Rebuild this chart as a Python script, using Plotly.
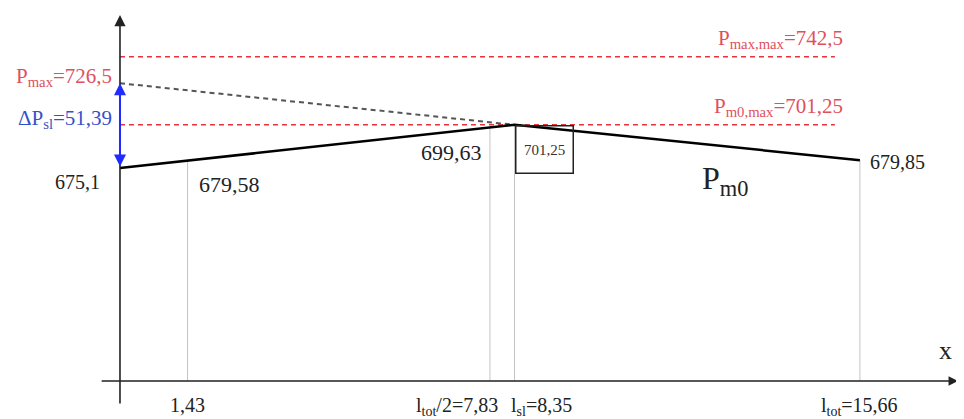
import plotly.graph_objects as go

# ---------------- data ----------------
x_pts = [0, 1.43, 7.83, 8.35, 15.66]
p_m0 = [675.1, 679.58, 699.63, 701.25, 679.85]
p_max = 726.5
p_max_max = 742.5
p_m0_max = 701.25
dp_sl = 51.39
l_half = 7.83
l_sl = 8.35
l_tot = 15.66

pt_labels = ["675,1", "679,58", "699,63", "701,25", "679,85"]
x_labels = ["1,43", "l<sub>tot</sub>/2=7,83", "l<sub>sl</sub>=8,35", "l<sub>tot</sub>=15,66"]

# ---------------- layout constants ----------------
FIG_W, FIG_H = 956, 411          # page body has an 8px margin
X_RANGE = [-2.370, 17.863]
Y_RANGE = [522.98, 772.07]
AXIS_Y = 546.0          # baseline where the x axis is drawn (schematic)
Y_TOP = 767.8
Y_BOTTOM = 531.5
X_LEFT = -0.42
X_RIGHT = 17.74
REF_END = 15.13

SERIF = "Liberation Serif, Times New Roman, serif"
RED = "#e8333c"
RED_TXT = "#e0505c"
BLUE = "#1f2bff"
BLUE_TXT = "#3550c8"

fig = go.Figure()

# thin vertical drop lines
for xv, yv in zip(x_pts[1:], p_m0[1:]):
    fig.add_trace(go.Scatter(x=[xv, xv], y=[yv, AXIS_Y], mode="lines",
                             line=dict(color="#c4c4c4", width=1), hoverinfo="skip", showlegend=False))

# red reference lines
for yv in [p_max_max, p_m0_max]:
    fig.add_trace(go.Scatter(x=[0, REF_END], y=[yv, yv], mode="lines",
                             line=dict(color=RED, width=1.5, dash="5px,4px"), hoverinfo="skip", showlegend=False))

# grey dashed line from P_max down to the peak
fig.add_trace(go.Scatter(x=[0, l_sl], y=[p_max, p_m0_max], mode="lines",
                         line=dict(color="#555555", width=2, dash="5px,4px"), hoverinfo="skip", showlegend=False))

# main P_m0 line
fig.add_trace(go.Scatter(x=x_pts, y=p_m0, mode="lines",
                         line=dict(color="black", width=2.5), hoverinfo="skip", showlegend=False))

ann = []
# axes with arrows
ann.append(dict(x=0, y=Y_TOP, ax=0, ay=Y_BOTTOM, xref="x", yref="y", axref="x", ayref="y",
                showarrow=True, arrowhead=2, arrowsize=1.4, arrowwidth=1.6, arrowcolor="#222", text=""))
ann.append(dict(x=X_RIGHT, y=AXIS_Y, ax=X_LEFT, ay=AXIS_Y, xref="x", yref="y", axref="x", ayref="y",
                showarrow=True, arrowhead=2, arrowsize=1.2, arrowwidth=1.6, arrowcolor="#222", text=""))
# blue double arrow
ann.append(dict(x=0, y=p_max, ax=0, ay=p_m0[0], xref="x", yref="y", axref="x", ayref="y",
                showarrow=True, arrowhead=2, startarrowhead=2, arrowside="end+start",
                arrowsize=1.2, startarrowsize=1.2, arrowwidth=2, arrowcolor=BLUE, text=""))

f20 = dict(family=SERIF, size=20, color="#222")
f22 = dict(family=SERIF, size=22, color="#222")
# point labels
ann.append(dict(x=0, y=p_m0[0], text=pt_labels[0], showarrow=False, xanchor="right", yanchor="middle",
                xshift=-18, yshift=-14, font=f20))
ann.append(dict(x=x_pts[1], y=p_m0[1], text=pt_labels[1], showarrow=False, xanchor="left", yanchor="middle",
                xshift=9, yshift=-24, font=f22))
ann.append(dict(x=x_pts[2], y=p_m0[2], text=pt_labels[2], showarrow=False, xanchor="right", yanchor="middle",
                xshift=-6, yshift=-25, font=f22))
ann.append(dict(x=x_pts[3], y=p_m0[3], text=pt_labels[3], showarrow=False, xanchor="left", yanchor="top",
                width=56, height=46, bordercolor="#222", borderwidth=1.5, borderpad=0,
                font=dict(family=SERIF, size=15, color="#333")))
ann.append(dict(x=x_pts[4], y=p_m0[4], text=pt_labels[4], showarrow=False, xanchor="left", yanchor="middle",
                xshift=8, yshift=-2, font=f20))
ann.append(dict(x=12.8, y=667.8, text="P<sub>m0</sub>", showarrow=False, xanchor="center", yanchor="middle",
                font=dict(family=SERIF, size=32, color="#222")))

# red / blue labels
ann.append(dict(x=0, y=p_max, text="P<sub>max</sub>=726,5", showarrow=False, xanchor="right", yanchor="middle",
                xshift=-6, yshift=6, font=dict(family=SERIF, size=21, color=RED_TXT)))
ann.append(dict(x=0, y=(p_max + p_m0[0]) / 2 + 4, text="ΔP<sub>sl</sub>=51,39", showarrow=False,
                xanchor="right", yanchor="middle", xshift=-6, font=dict(family=SERIF, size=21, color=BLUE_TXT)))
ann.append(dict(x=REF_END, y=p_max_max, text="P<sub>max,max</sub>=742,5", showarrow=False,
                xanchor="right", yanchor="bottom", xshift=10, yshift=3, font=dict(family=SERIF, size=21, color=RED_TXT)))
ann.append(dict(x=REF_END, y=p_m0_max, text="P<sub>m0,max</sub>=701,25", showarrow=False,
                xanchor="right", yanchor="bottom", xshift=10, yshift=3, font=dict(family=SERIF, size=21, color=RED_TXT)))

# x-axis labels
ann.append(dict(x=x_pts[1], y=AXIS_Y, text=x_labels[0], showarrow=False, xanchor="center", yanchor="top",
                yshift=-11, font=f20))
ann.append(dict(x=l_half, y=AXIS_Y, text=x_labels[1], showarrow=False, xanchor="right", yanchor="top",
                xshift=10, yshift=-11, font=f20))
ann.append(dict(x=l_sl, y=AXIS_Y, text=x_labels[2], showarrow=False, xanchor="left", yanchor="top",
                xshift=-6, yshift=-11, font=f20))
ann.append(dict(x=l_tot, y=AXIS_Y, text=x_labels[3], showarrow=False, xanchor="center", yanchor="top",
                yshift=-11, font=f20))
ann.append(dict(x=X_RIGHT, y=AXIS_Y, text="x", showarrow=False, xanchor="center", yanchor="middle",
                xshift=-13, yshift=31, font=dict(family=SERIF, size=26, color="#222")))

fig.update_layout(
    width=FIG_W, height=FIG_H,
    margin=dict(l=0, r=0, t=0, b=0),
    paper_bgcolor="white", plot_bgcolor="white",
    xaxis=dict(range=X_RANGE, visible=False, fixedrange=True),
    yaxis=dict(range=Y_RANGE, visible=False, fixedrange=True),
    annotations=ann,
    showlegend=False,
)

fig.write_html("out.html")
